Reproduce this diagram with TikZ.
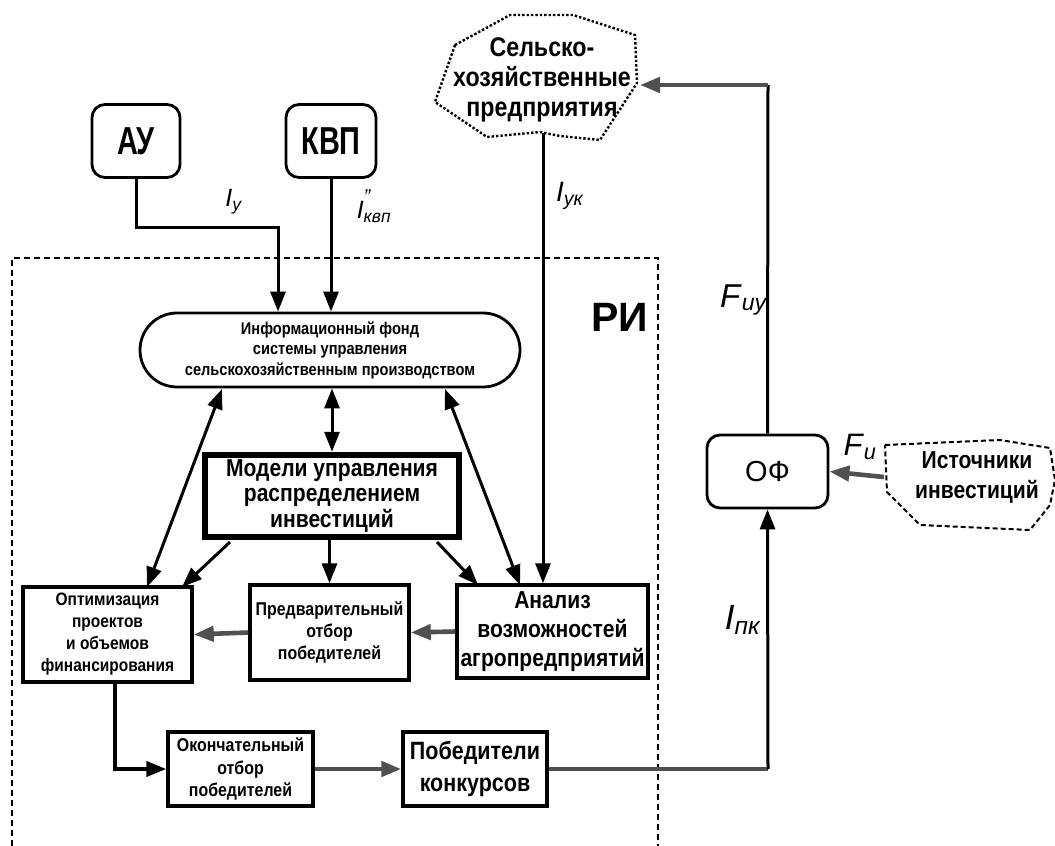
\documentclass[tikz,border=0pt]{standalone}
\usepackage{fontspec}
\setmainfont{Liberation Sans}[FakeStretch=0.86]
\newfontfamily\plain{Liberation Sans}
\newfontfamily\narrow{Liberation Sans}[FakeStretch=0.74]
\usetikzlibrary{arrows.meta,shapes.misc}
\definecolor{gr}{RGB}{80,80,80}
\newcommand{\lab}[2]{\plain\textit{#1}\textsubscript{\textit{#2}}}

\begin{document}
\begin{tikzpicture}[x=1pt, y=-1pt,
	>={Triangle[length=20pt,width=15pt]},
	box/.style={draw, line width=3.4pt, align=center, inner sep=0pt, font=\bfseries},
	rbox/.style={box, line width=2.8pt, rounded corners=13pt},
	ln/.style={line width=3pt},
	gln/.style={line width=4.6pt, gr},
	lbl/.style={inner sep=0pt}]
	\useasboundingbox (0,0) rectangle (1055,846);

	% boundary of RI
	\draw[line width=1.8pt, dash pattern=on 6pt off 4pt] (12,846) -- (12,258) -- (658,258) -- (658,846);
	\node [lbl, font=\plain\bfseries\fontsize{41}{41}\selectfont] (RI) at (620,317) {РИ};

	\node [rbox, minimum width=88pt, minimum height=73pt, font=\narrow\bfseries\fontsize{39}{39}\selectfont] (AU) at (136,141) {АУ};
	\node [rbox, minimum width=90pt, minimum height=73pt, font=\narrow\bfseries\fontsize{39}{39}\selectfont] (KVP) at (331,141) {КВП};
	\node [rounded rectangle, draw, line width=2.8pt, minimum width=380pt, minimum height=74pt, inner sep=0pt, align=center,
		font=\bfseries\fontsize{17}{20.5}\selectfont] (IF) at (330,350)
		{Информационный фонд\\системы управления\\сельскохозяйственным производством};
	\node [box, line width=6.5pt, minimum width=254pt, minimum height=82pt, font=\bfseries\fontsize{24.5}{25.5}\selectfont] (MU) at (332,496)
		{Модели управления\\распределением\\инвестиций};
	\node [box, minimum width=169pt, minimum height=95pt, font=\bfseries\fontsize{18}{22}\selectfont] (OP) at (107.5,634.5)
		{Оптимизация\\проектов\\и объемов\\финансирования};
	\node [box, minimum width=159pt, minimum height=95pt, font=\bfseries\fontsize{18.5}{22}\selectfont] (PO) at (329.5,632.5)
		{Предварительный\\отбор\\победителей};
	\node [box, minimum width=191pt, minimum height=93pt, font=\bfseries\fontsize{24.5}{29}\selectfont] (AV) at (552.5,631.5)
		{Анализ\\возможностей\\агропредприятий};
	\node [box, minimum width=145pt, minimum height=74pt, font=\bfseries\fontsize{18.5}{22.5}\selectfont] (OO) at (240.5,769)
		{Окончательный\\отбор\\победителей};
	\node [box, minimum width=144pt, minimum height=74pt, font=\bfseries\fontsize{25}{32}\selectfont] (PK) at (475,769)
		{Победители\\конкурсов};
	\node [rbox, minimum width=121pt, minimum height=73pt, font=\plain\fontsize{29}{29}\selectfont] (OF) at (767.5,471.5) {ОФ};

	% clouds
	\node [lbl, align=center, font=\bfseries\fontsize{27}{30}\selectfont] (SP) at (542,80)
		{Сельско-\\хозяйственные\\предприятия};
	\draw[line width=2.4pt, dotted] (455,45) -- (510,15) -- (573,15) -- (635,35) -- (637,83)
		-- (600,140) -- (560,136) -- (540,132) -- (487,137) -- (435,102) -- cycle;
	\coordinate (SPin) at (640,85);
	\coordinate (SPout) at (543,133);
	\node [lbl, align=center, font=\bfseries\fontsize{24.5}{30}\selectfont] (IS) at (977,478)
		{Источники\\инвестиций};
	\draw[line width=2pt, dash pattern=on 5pt off 3pt] (885,445) -- (1000,440) -- (1050,448) -- (1055,480)
		-- (1050,505) -- (1030,530) -- (920,525) -- (887,492) -- cycle;
	\coordinate (ISout) at (884,477);

	% connectors
	\draw[ln, ->] (AU.south) |- (278,227) -- ([xshift=-52pt]IF.north);
	\draw[ln, ->] (KVP.south) -- (IF.north -| KVP.south);
	\draw[ln, <->] (IF.south -| MU.north) -- (MU.north);
	\draw[ln, <->] (222,389) -- (147,587);
	\draw[ln, <->] (445,389) -- (520,585);
	\draw[ln, ->] (230,542) -- (182,587);
	\draw[ln, ->] (MU.south -| PO.north) -- (PO.north);
	\draw[ln, ->] (437,542) -- (478,585);
	\draw[ln, ->] (SPout) -- (SPout |- AV.north);
	\draw[gln, ->] (AV.west) -- (PO.east);
	\draw[gln, ->] (PO.west) -- (OP.east);
	\draw[line width=4pt, ->] (115,682) |- (OO.west);
	\draw[gln, ->] (OO.east) -- (PK.west);
	\draw[gln] (PK.east) -- (768,769);
	\draw[ln, ->] (768,769) -- (OF.south);
	\draw[gln, ->] (ISout) -- (OF.east);
	\draw[ln] (OF.north) -- (768,85);
	\draw[gln, ->] (768,85) -- (SPin);

	% flow labels
	\node [lbl, font=\fontsize{25}{25}\selectfont] (Iy) at (234,202) {\lab{I}{у}};
	\node [lbl, font=\fontsize{25}{25}\selectfont] (Ikvp) at (374,206)
		{\plain\textit{I}\rlap{\raisebox{0.62em}{\fontsize{20}{20}\selectfont\textit{”}}}\textsubscript{\textit{квп}}};
	\node [lbl, font=\fontsize{28}{28}\selectfont] (Iyk) at (570,196) {\lab{I}{ук}};
	\node [lbl, font=\fontsize{33}{33}\selectfont] (Fiy) at (744,300) {\lab{F}{иу}};
	\node [lbl, font=\fontsize{31}{31}\selectfont] (Fi) at (860,447) {\lab{F}{и}};
	\node [lbl, font=\fontsize{35}{35}\selectfont] (Ipk) at (743,620) {\lab{I}{пк}};
\end{tikzpicture}
\end{document}
